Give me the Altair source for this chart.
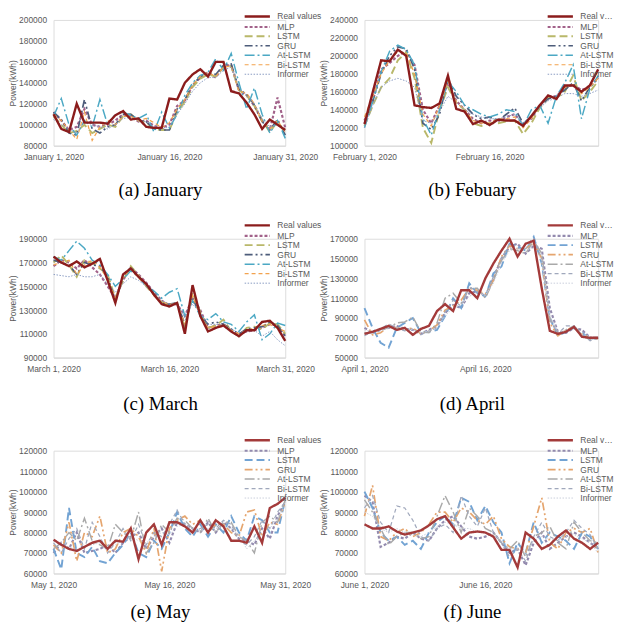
import altair as alt
import pandas as pd

MODELS = ["Real values", "MLP", "LSTM", "GRU", "At-LSTM", "Bi-LSTM", "Informer"]

# daily power, in thousand kWh
JAN_REAL = [110, 96, 93, 120, 102, 102, 102, 101, 109, 113, 105, 106, 98, 97, 97, 125, 124, 140, 148, 153, 146, 160, 160, 132, 130, 121, 110, 96, 105, 100, 95]
JAN_MLP = [112, 104, 95, 98, 115, 100, 98, 100, 104, 110, 108, 103, 104, 99, 97, 100, 118, 123, 137, 145, 150, 145, 156, 157, 133, 128, 118, 104, 95, 126, 97]
JAN_LSTM = [108, 100, 92, 94, 100, 92, 96, 100, 98, 108, 110, 104, 102, 96, 95, 95, 112, 122, 136, 144, 148, 146, 155, 156, 133, 128, 118, 104, 93, 103, 92]
JAN_GRU = [112, 105, 92, 90, 124, 96, 92, 98, 100, 110, 110, 104, 103, 96, 95, 95, 115, 124, 138, 146, 150, 148, 157, 158, 134, 129, 119, 103, 95, 105, 90]
JAN_AT = [108, 125, 100, 90, 104, 98, 124, 100, 110, 112, 109, 106, 110, 93, 112, 97, 110, 128, 140, 147, 150, 163, 152, 168, 140, 115, 135, 110, 92, 104, 87]
JAN_BI = [110, 104, 95, 86, 112, 85, 98, 104, 100, 108, 108, 104, 106, 102, 97, 102, 115, 124, 138, 146, 150, 146, 155, 156, 132, 130, 120, 103, 96, 104, 93]
JAN_INF = [105, 100, 96, 92, 104, 100, 98, 96, 100, 106, 107, 104, 103, 98, 96, 98, 110, 120, 132, 140, 145, 145, 152, 155, 135, 128, 120, 106, 98, 100, 95]

FEB_REAL = [124, 160, 195, 194, 207, 200, 145, 143, 142, 147, 178, 141, 138, 124, 128, 123, 129, 128, 128, 122, 133, 145, 156, 152, 167, 167, 160, 167, 185]
FEB_MLP = [128, 150, 185, 192, 200, 205, 190, 140, 125, 145, 170, 150, 140, 130, 125, 128, 127, 132, 135, 124, 130, 144, 155, 155, 165, 168, 162, 165, 176]
FEB_LSTM = [122, 145, 165, 175, 195, 204, 175, 120, 103, 140, 165, 148, 140, 125, 122, 125, 125, 127, 128, 113, 125, 142, 153, 153, 160, 178, 150, 160, 172]
FEB_GRU = [125, 150, 180, 200, 210, 208, 185, 125, 118, 135, 175, 155, 145, 135, 130, 132, 128, 135, 142, 125, 132, 144, 152, 155, 162, 170, 150, 165, 175]
FEB_AT = [120, 150, 182, 205, 212, 207, 190, 130, 112, 140, 172, 160, 145, 140, 135, 132, 135, 140, 138, 122, 140, 145, 125, 155, 170, 190, 130, 163, 178]
FEB_BI = [132, 155, 180, 195, 205, 203, 180, 135, 122, 145, 172, 148, 140, 128, 125, 125, 130, 130, 132, 120, 130, 145, 155, 153, 165, 168, 158, 165, 175]
FEB_INF = [120, 145, 165, 172, 175, 172, 165, 128, 125, 138, 155, 148, 140, 135, 132, 130, 130, 132, 135, 125, 135, 142, 150, 153, 158, 158, 155, 158, 162]

MAR_REAL = [175, 170, 167, 171, 166, 169, 173, 155, 136, 160, 165, 158, 152, 143, 135, 133, 136, 110, 151, 125, 112, 115, 117, 112, 108, 113, 113, 120, 121, 115, 104]
MAR_MLP = [167, 172, 170, 165, 172, 166, 160, 150, 140, 155, 166, 160, 153, 145, 138, 134, 135, 125, 140, 130, 115, 117, 118, 113, 110, 112, 113, 115, 118, 117, 108]
MAR_LSTM = [170, 176, 168, 158, 172, 170, 165, 160, 140, 155, 167, 159, 150, 143, 137, 134, 136, 115, 145, 128, 115, 117, 122, 112, 108, 115, 116, 114, 119, 118, 110]
MAR_GRU = [172, 170, 168, 160, 170, 168, 167, 158, 138, 157, 166, 158, 152, 143, 136, 135, 136, 118, 140, 126, 118, 120, 118, 114, 110, 114, 115, 116, 120, 117, 108]
MAR_AT = [175, 172, 180, 188, 182, 172, 168, 160, 150, 156, 163, 158, 150, 146, 140, 145, 148, 125, 138, 125, 122, 127, 120, 118, 112, 120, 126, 105, 110, 119, 117]
MAR_BI = [168, 170, 172, 160, 168, 172, 166, 156, 140, 157, 165, 157, 151, 142, 137, 135, 135, 118, 142, 125, 115, 116, 118, 113, 110, 113, 115, 117, 118, 115, 112]
MAR_INF = [160, 159, 158, 160, 158, 158, 160, 152, 145, 152, 158, 155, 150, 143, 138, 135, 135, 125, 135, 128, 118, 118, 117, 114, 111, 112, 113, 108, 112, 105, 100]

APR_REAL = [74, 76, 79, 82, 78, 80, 73, 79, 82, 97, 104, 97, 118, 118, 110, 130, 145, 158, 170, 152, 165, 168, 120, 77, 74, 76, 81, 71, 70, 70]
APR_MLP = [80, 75, 78, 80, 82, 79, 78, 74, 78, 82, 95, 103, 100, 115, 117, 112, 130, 150, 162, 165, 155, 163, 160, 100, 76, 75, 80, 78, 70, 69]
APR_LSTM = [100, 80, 65, 60, 80, 85, 90, 75, 76, 78, 92, 110, 100, 125, 115, 112, 135, 142, 165, 162, 158, 172, 145, 90, 72, 76, 80, 75, 69, 70]
APR_GRU = [88, 73, 75, 82, 80, 78, 80, 74, 77, 83, 98, 102, 108, 120, 118, 114, 128, 152, 163, 160, 160, 166, 150, 85, 72, 78, 81, 74, 70, 69]
APR_AT = [75, 75, 78, 80, 85, 86, 91, 76, 75, 85, 110, 115, 105, 120, 120, 110, 128, 148, 160, 158, 155, 168, 155, 90, 74, 78, 82, 72, 68, 72]
APR_BI = [72, 76, 79, 84, 80, 77, 79, 73, 77, 80, 96, 108, 102, 122, 116, 113, 132, 150, 165, 160, 160, 170, 150, 88, 74, 82, 82, 73, 67, 70]
APR_INF = [78, 76, 77, 80, 80, 79, 78, 75, 77, 80, 92, 100, 103, 112, 115, 113, 125, 145, 158, 160, 158, 162, 148, 92, 77, 77, 80, 74, 71, 71]

MAY_REAL = [76.5, 74, 72, 71, 73, 75, 76, 72, 76, 75.5, 82, 67, 80, 84, 74, 85, 85, 83, 80, 86, 80, 86, 83, 76, 76, 75, 83, 75, 92, 94, 97]
MAY_MLP = [70, 75, 72, 80, 70, 71, 72, 74, 70, 75, 78, 80, 72, 78, 82, 75, 85, 84, 82, 80, 85, 80, 85, 82, 77, 76, 74, 82, 77, 88, 95]
MAY_LSTM = [72, 62, 92, 70, 68, 73, 66, 65, 70, 74, 80, 70, 68, 76, 72, 80, 90, 82, 78, 84, 78, 84, 80, 88, 80, 76, 88, 86, 80, 80, 96]
MAY_GRU = [74, 70, 85, 66, 80, 78, 88, 70, 72, 80, 82, 78, 70, 82, 61, 82, 86, 88, 84, 86, 80, 84, 84, 80, 78, 90, 91, 78, 85, 84, 95]
MAY_AT = [72, 75, 80, 76, 87, 76, 74, 72, 84, 80, 77, 90, 70, 75, 84, 80, 87, 86, 82, 80, 87, 80, 85, 85, 78, 76, 70, 85, 88, 85, 96]
MAY_BI = [75, 70, 77, 82, 72, 85, 78, 70, 75, 82, 76, 84, 74, 80, 78, 84, 91, 84, 80, 82, 84, 82, 86, 84, 76, 74, 78, 86, 82, 90, 95]
MAY_INF = [76, 74, 73, 72, 73, 74, 75, 73, 74, 76, 78, 76, 75, 78, 80, 79, 83, 84, 82, 81, 82, 82, 83, 82, 79, 72, 76, 79, 82, 87, 93]

JUN_REAL = [84, 82, 82, 83, 80.5, 79, 80, 81, 83.5, 86.5, 88, 82.5, 77, 80, 80.5, 80, 78, 71.5, 71.5, 63, 80, 77, 72, 74, 78, 81, 77, 75, 72, 75]
JUN_MLP = [98, 95, 73, 75, 78, 77, 80, 77, 76, 82, 86, 88, 83, 78, 77, 78, 80, 75, 70, 72, 64, 75, 80, 72, 75, 78, 80, 78, 75, 72]
JUN_LSTM = [100, 92, 80, 76, 78, 74, 76, 72, 80, 85, 88, 84, 97, 95, 86, 93, 85, 80, 65, 75, 70, 85, 75, 80, 78, 76, 72, 80, 78, 72]
JUN_GRU = [88, 103, 78, 76, 80, 82, 78, 80, 84, 90, 90, 85, 92, 90, 86, 84, 88, 77, 73, 72, 70, 83, 97, 75, 72, 80, 82, 80, 82, 70]
JUN_AT = [96, 90, 82, 74, 78, 80, 80, 77, 78, 88, 98, 90, 80, 92, 88, 82, 80, 75, 72, 76, 68, 78, 80, 83, 75, 72, 85, 80, 76, 75]
JUN_BI = [92, 98, 85, 80, 93, 92, 86, 78, 76, 82, 84, 80, 98, 88, 83, 92, 80, 75, 68, 72, 66, 78, 85, 78, 76, 80, 86, 82, 79, 72]
JUN_INF = [90, 88, 82, 80, 82, 80, 79, 78, 80, 83, 85, 84, 82, 82, 80, 80, 79, 76, 72, 72, 70, 76, 78, 77, 76, 78, 79, 77, 75, 70]

CAPTIONS = ["(a) January", "(b) Febuary", "(c) March", "(d) April", "(e) May", "(f) June"]
MONTH_NAMES = ["January", "February", "March", "April", "May", "June"]
Y_RANGES = [(80000, 200000, 20000), (100000, 240000, 20000), (90000, 190000, 20000),
            (50000, 170000, 20000), (60000, 120000, 10000), (60000, 120000, 10000)]
X_TICK_DAYS = [1, 16, 31]

SERIES = [
    [JAN_REAL, JAN_MLP, JAN_LSTM, JAN_GRU, JAN_AT, JAN_BI, JAN_INF],
    [FEB_REAL, FEB_MLP, FEB_LSTM, FEB_GRU, FEB_AT, FEB_BI, FEB_INF],
    [MAR_REAL, MAR_MLP, MAR_LSTM, MAR_GRU, MAR_AT, MAR_BI, MAR_INF],
    [APR_REAL, APR_MLP, APR_LSTM, APR_GRU, APR_AT, APR_BI, APR_INF],
    [MAY_REAL, MAY_MLP, MAY_LSTM, MAY_GRU, MAY_AT, MAY_BI, MAY_INF],
    [JUN_REAL, JUN_MLP, JUN_LSTM, JUN_GRU, JUN_AT, JUN_BI, JUN_INF],
]

PAL_A = ["#8B1C1C", "#A2628A", "#B9B86A", "#4D5C7A", "#4BA8C4", "#F2A24E", "#8A9CC2"]
PAL_B = ["#A33A3A", "#938AAE", "#72A3D3", "#E5A56E", "#A9A9A9", "#A0A8BC", "#C9CEDC"]
PALETTES = [PAL_A, PAL_A, PAL_A, PAL_B, PAL_B, PAL_B]
DASHES = [[1, 0], [3, 2], [8, 4], [8, 3, 2, 3, 2, 3], [10, 3, 2, 3], [4, 3], [1.5, 1.5]]
WIDTHS = [2.4, 1.0, 1.1, 1.0, 1.0, 1.0, 1.0]

HEIGHTS = [127, 120, 124]
LEGEND_Y = [-8, -18, -15]
TITLE_OFFSET = [20, 22, 14]
TXT = "#595959"


def panel(i):
    pal = PALETTES[i]
    rows = []
    # predictions first, real values last so they are drawn on top
    order = list(range(1, 7)) + [0]
    for k in order:
        for d, v in enumerate(SERIES[i][k]):
            rows.append({"day": d + 1, "power": v * 1000, "model": MODELS[k]})
    df = pd.DataFrame(rows)
    n = len(SERIES[i][0])
    ymin, ymax, step = Y_RANGES[i]
    name = MONTH_NAMES[i]
    right = i % 2 == 1
    leg = alt.Legend(orient="none", legendX=206 if right else 214, legendY=LEGEND_Y[i // 2],
                     title=None, symbolType="M-8.5,0H0", symbolSize=36, labelFontSize=8.5,
                     labelColor=TXT, labelFont="Liberation Sans", rowPadding=0.6,
                     labelOffset=3, padding=0, labelLimit=34 if right else 90)
    return alt.Chart(df).mark_line().encode(
        x=alt.X("day:Q", scale=alt.Scale(domain=[1, n], nice=False, zero=False),
                axis=alt.Axis(title=None, values=[v for v in X_TICK_DAYS if v <= n],
                              labelExpr=f"'{name} ' + datum.value + ', 2020'",
                              labelFlush=False, labelOverlap=False, grid=False, ticks=False,
                              tickSize=0, domainColor="#D9D9D9", labelFontSize=8.5,
                              labelColor=TXT, labelFont="Liberation Sans", labelPadding=7)),
        y=alt.Y("power:Q", scale=alt.Scale(domain=[ymin, ymax], nice=False, zero=False),
                axis=alt.Axis(title="Power(kWh)", values=list(range(ymin, ymax + 1, step)),
                              format="d", grid=False, ticks=False, tickSize=0, domain=False,
                              labelFontSize=8.5, labelColor=TXT, labelFont="Liberation Sans",
                              titleFontSize=8.5, titleColor=TXT, titleFont="Liberation Sans",
                              titleFontWeight="normal", labelPadding=7, titlePadding=1)),
        color=alt.Color("model:N", scale=alt.Scale(domain=MODELS, range=pal), legend=leg),
        strokeDash=alt.StrokeDash("model:N", scale=alt.Scale(domain=MODELS, range=DASHES), legend=leg),
        strokeWidth=alt.StrokeWidth("model:N", scale=alt.Scale(domain=MODELS, range=WIDTHS), legend=leg),
    ).properties(
        width=236 if right else 234,
        height=HEIGHTS[i // 2],
        title=alt.TitleParams(CAPTIONS[i], orient="bottom", anchor="middle",
                              font="Liberation Serif", fontSize=19, fontWeight="normal",
                              color="#000000", offset=TITLE_OFFSET[i // 2], dx=-9),
    )


chart = alt.concat(*[panel(i) for i in range(6)], columns=2,
                   spacing={"row": 94, "column": 80}, bounds="flush", padding=0
).resolve_scale(
    color="independent", strokeDash="independent", strokeWidth="independent"
).resolve_legend(
    color="independent", strokeDash="independent", strokeWidth="independent"
).configure_view(stroke=None).configure(background="white")

chart.save("out.html", embed_options={"renderer": "svg", "actions": False})
